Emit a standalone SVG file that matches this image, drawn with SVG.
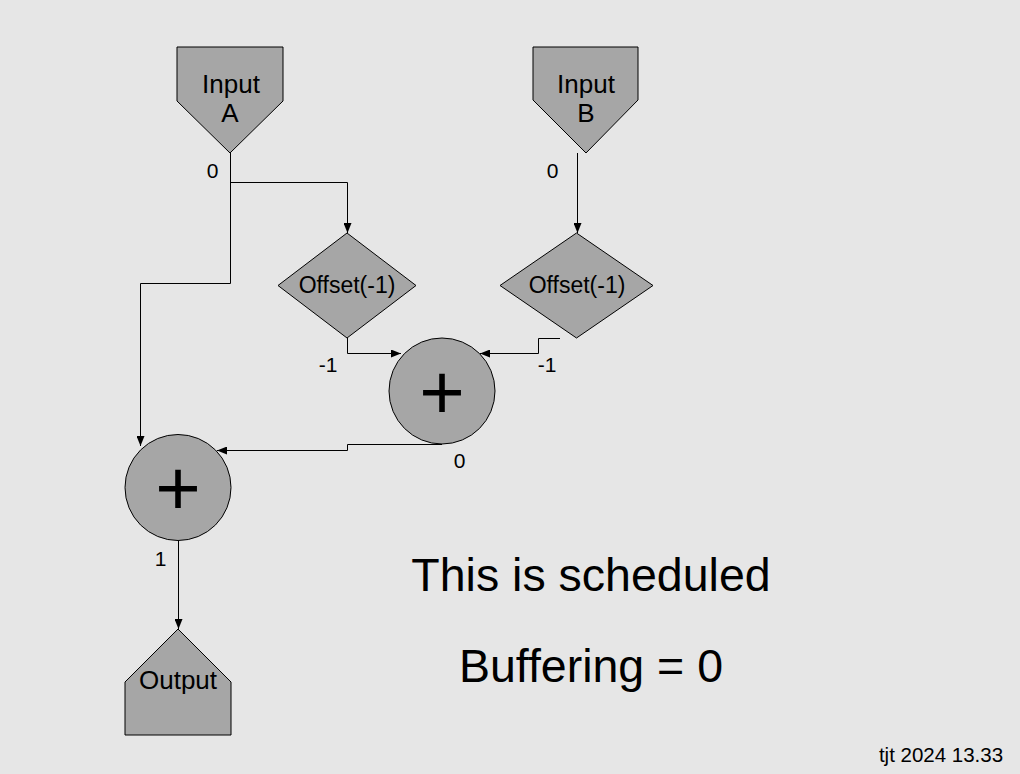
<svg xmlns="http://www.w3.org/2000/svg" width="1020" height="774" viewBox="0 0 1020 774">
<defs>
<marker id="ah" markerWidth="10" markerHeight="8" refX="10" refY="4" orient="auto" markerUnits="userSpaceOnUse"><path d="M0,0 L10,4 L0,8 Z" fill="#000"/></marker>
<style>
.shape{fill:#a6a6a6;stroke:#000;stroke-width:1}
.lbl{font-family:"Liberation Sans",Arial,sans-serif;fill:#000}
.c{fill:none;stroke:#000;stroke-width:1}
</style>
</defs>
<rect width="1020" height="774" fill="#e6e6e6"/>
<g id="connectors">
<path class="c" d="M230.5,153 V283.5 H140.5 V446" marker-end="url(#ah)"/>
<path class="c" d="M230.5,182.5 H347.5 V233" marker-end="url(#ah)"/>
<path class="c" d="M577.5,153 V233" marker-end="url(#ah)"/>
<path class="c" d="M347.5,338 V353.5 H401" marker-end="url(#ah)"/>
<path class="c" d="M560,338.5 H538.5 V353.5 H480" marker-end="url(#ah)"/>
<path class="c" d="M442,444.5 H347.5 V450.5 H217" marker-end="url(#ah)"/>
<path class="c" d="M178.5,541 V629" marker-end="url(#ah)"/>
</g>
<g id="inputA">
<path class="shape" d="M177,47 H283 V101 L230,153 L177,101 Z"/>
<text class="lbl" x="231" y="93" font-size="26" text-anchor="middle">Input</text>
<text class="lbl" x="230" y="122" font-size="26" text-anchor="middle">A</text>
<text class="lbl" x="212.5" y="178" font-size="21" text-anchor="middle">0</text>
</g>
<g id="inputB">
<path class="shape" d="M533,47 H638 V100 L586,153 L533,100 Z"/>
<text class="lbl" x="586" y="93" font-size="26" text-anchor="middle">Input</text>
<text class="lbl" x="586" y="122" font-size="26" text-anchor="middle">B</text>
<text class="lbl" x="552.5" y="178" font-size="21" text-anchor="middle">0</text>
</g>
<g id="offset1">
<path class="shape" d="M347,233 L416,285.5 L347,338 L278,285.5 Z"/>
<text class="lbl" x="347" y="293" font-size="23" text-anchor="middle">Offset(-1)</text>
<text class="lbl" x="328" y="372" font-size="21" text-anchor="middle">-1</text>
</g>
<g id="offset2">
<path class="shape" d="M576.5,233 L653,285.5 L576.5,338 L500,285.5 Z"/>
<text class="lbl" x="577" y="293" font-size="23" text-anchor="middle">Offset(-1)</text>
<text class="lbl" x="547" y="372" font-size="21" text-anchor="middle">-1</text>
</g>
<g id="add1">
<circle class="shape" cx="442" cy="391" r="53"/>
<text class="lbl" x="442" y="419" font-size="78" text-anchor="middle">+</text>
<text class="lbl" x="459.5" y="468" font-size="21" text-anchor="middle">0</text>
</g>
<g id="add2">
<circle class="shape" cx="178" cy="487.5" r="53"/>
<text class="lbl" x="178" y="515" font-size="78" text-anchor="middle">+</text>
<text class="lbl" x="160.5" y="566" font-size="21" text-anchor="middle">1</text>
</g>
<g id="output">
<path class="shape" d="M178,629 L231,682 V735 H125 V682 Z"/>
<text class="lbl" x="178" y="689" font-size="26" text-anchor="middle">Output</text>
</g>
<g id="notes">
<text class="lbl" x="591" y="591" font-size="46.5" text-anchor="middle">This is scheduled</text>
<text class="lbl" x="591" y="682" font-size="46.5" text-anchor="middle">Buffering = 0</text>
<text class="lbl" x="941" y="762" font-size="20.5" text-anchor="middle">tjt 2024 13.33</text>
</g>
</svg>
